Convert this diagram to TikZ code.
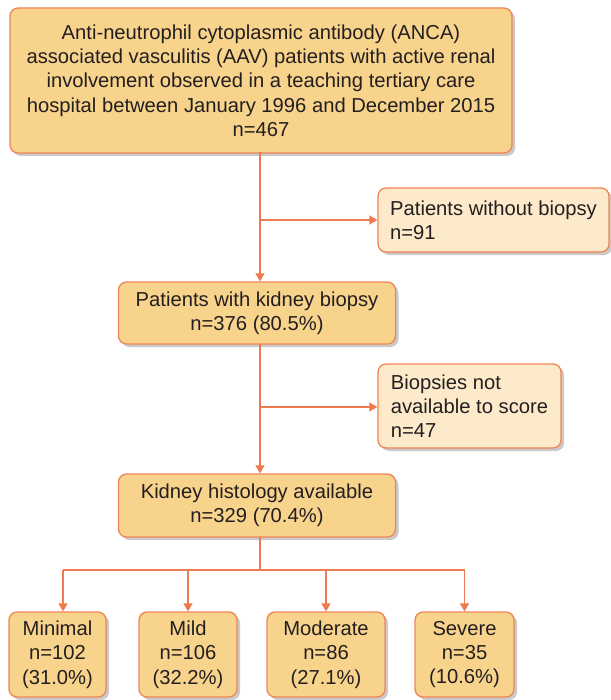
\documentclass[tikz,border=0pt]{standalone}
\usepackage{fontspec}
\setmainfont{Liberation Sans}
\usetikzlibrary{arrows.meta,shadows}
\definecolor{boxfill}{HTML}{F8D38B}
\definecolor{lightfill}{HTML}{FDEACB}
\definecolor{edge}{HTML}{EE8557}
\definecolor{arrowc}{HTML}{EE7B50}
\definecolor{txt}{HTML}{231F20}
\tikzset{
  base/.style={draw=edge, line width=1.3pt, rounded corners=8pt, text=txt,
    font=\fontsize{20.2}{24.3}\selectfont, inner sep=0pt,
    drop shadow={shadow xshift=3pt, shadow yshift=-3pt, fill=black!35, opacity=0.6}},
  mainbox/.style={base, fill=boxfill, align=center},
  sidebox/.style={base, fill=lightfill, align=left},
  conn/.style={draw=arrowc, line width=1.6pt},
  arr/.style={conn, -{Triangle[length=8pt,width=9pt]}},
}
\begin{document}
\begin{tikzpicture}[x=1pt,y=-1pt]
\useasboundingbox (0,0) rectangle (610,700);
\node[mainbox, minimum width=502pt, minimum height=145pt] (top) at (261,80.5)
  {Anti-neutrophil cytoplasmic antibody (ANCA)\\associated vasculitis (AAV) patients with active renal\\involvement observed in a teaching tertiary care\\hospital between January 1996 and December 2015\\n=467};
\node[sidebox, minimum width=231pt, minimum height=64pt] (nobiop) at (493.5,220)
  {Patients without biopsy\\n=91};
\node[mainbox, minimum width=277pt, minimum height=62pt] (biop) at (257,313)
  {Patients with kidney biopsy\\n=376 (80.5\%)};
\node[sidebox, minimum width=183pt, minimum height=84pt] (noscore) at (469.5,406)
  {Biopsies not\\available to score\\n=47};
\node[mainbox, minimum width=277pt, minimum height=63pt] (hist) at (257,505.5)
  {Kidney histology available\\n=329 (70.4\%)};
\node[mainbox, minimum width=97pt, minimum height=85pt] (minimal) at (57.5,654.5)
  {Minimal\\n=102\\(31.0\%)};
\node[mainbox, minimum width=98pt, minimum height=85pt] (mild) at (188,654.5)
  {Mild\\n=106\\(32.2\%)};
\node[mainbox, minimum width=118pt, minimum height=85pt] (moderate) at (326,654.5)
  {Moderate\\n=86\\(27.1\%)};
\node[mainbox, minimum width=99pt, minimum height=85pt] (severe) at (464.5,654.5)
  {Severe\\n=35\\(10.6\%)};
% connectors
\coordinate (s1) at (260,152.3);
\coordinate (b1) at (260,220);
\coordinate (s2) at (260,344);
\coordinate (b2) at (260,407);
\coordinate (s3) at (260,537);
\coordinate (h) at (260,570);
\coordinate (hl) at (63,570);
\draw[arr] (s1) -- (s1 |- biop.north);
\draw[arr] (b1) -- (nobiop.west |- b1);
\draw[arr] (s2) -- (s2 |- hist.north);
\draw[arr] (b2) -- (noscore.west |- b2);
\draw[conn] (s3) -- (h);
\draw[conn] (hl) -- (severe.north |- h);
\draw[arr] (hl) -- (hl |- minimal.north);
\draw[arr] (mild.north |- h) -- (mild.north);
\draw[arr] (moderate.north |- h) -- (moderate.north);
\draw[arr] (severe.north |- h) -- (severe.north);
\end{tikzpicture}
\end{document}
